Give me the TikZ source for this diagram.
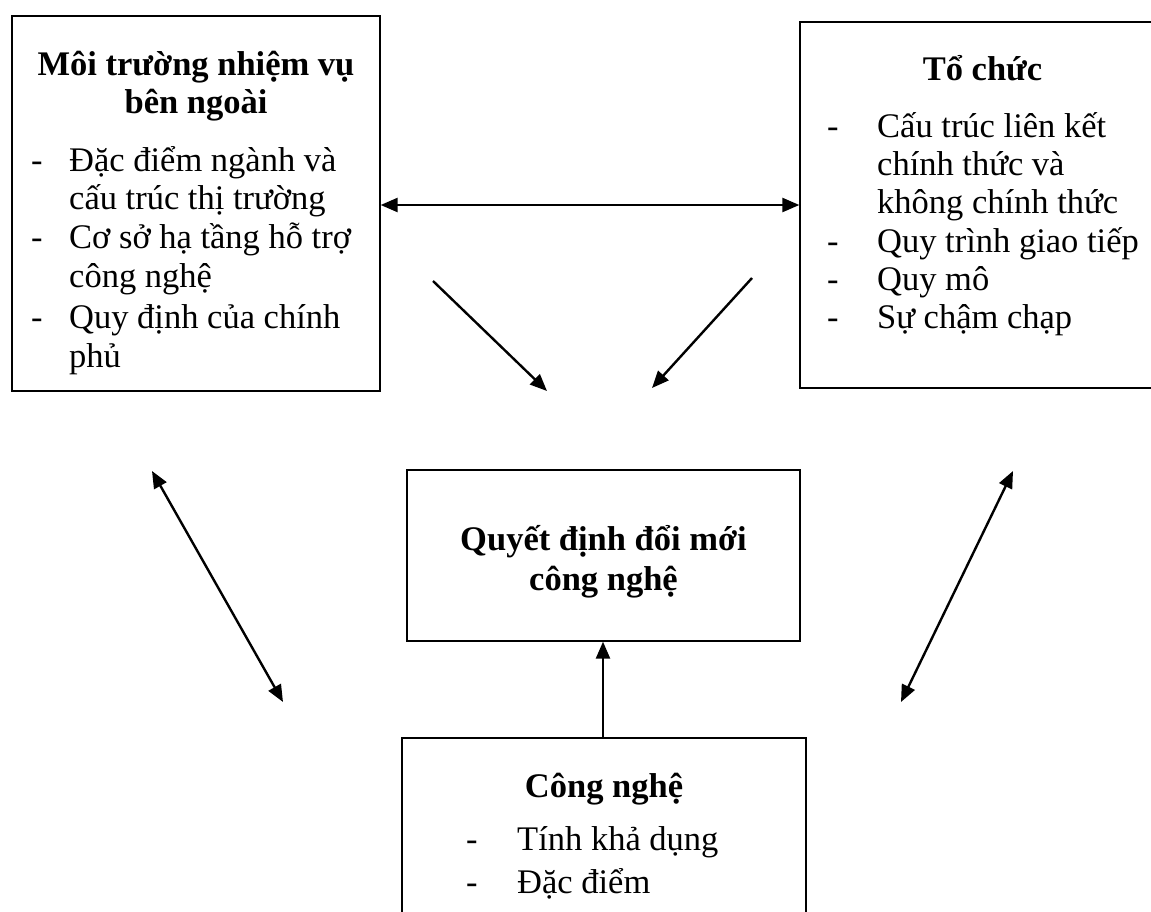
\documentclass[tikz,border=0pt]{standalone}
\usepackage{fontspec}
\setmainfont{Liberation Serif}
\usetikzlibrary{arrows.meta}
\begin{document}
\begin{tikzpicture}[x=1pt,y=-1pt,
  box/.style={draw, line width=1.3pt, inner sep=0pt},
  title/.style={font=\fontsize{34.5}{41}\selectfont\bfseries, anchor=base, inner sep=0pt},
  item/.style={font=\fontsize{34.5}{41}\selectfont, anchor=base west, inner sep=0pt},
  tipa/.tip={Triangle[length=17pt,width=14pt]},
  link/.style={line width=2.4pt, -tipa},
  dlink/.style={line width=2.4pt, tipa-tipa}]
\useasboundingbox (0,0) rectangle (1151,911);

% frames of the four blocks
\node[box, minimum width=368pt, minimum height=375pt] (env)  at (196,203.5) {};
\node[box, minimum width=365pt, minimum height=366pt] (org)  at (982.5,205) {};
\node[box, minimum width=393pt, minimum height=171pt] (dec)  at (603.5,555.5) {};
\node[box, minimum width=404pt, minimum height=222pt] (tech) at (604,849) {};

% external task environment
\node[title] (envt1) at (196,75)  {Môi trường nhiệm vụ};
\node[title] (envt2) at (196,113) {bên ngoài};
\node[item] (envd1) at (31,171) {-};
\node[item] (envi1) at (69,171) {Đặc điểm ngành và};
\node[item] (envi2) at (69,209) {cấu trúc thị trường};
\node[item] (envd2) at (31,248) {-};
\node[item] (envi3) at (69,248) {Cơ sở hạ tầng hỗ trợ};
\node[item] (envi4) at (69,287) {công nghệ};
\node[item] (envd3) at (31,328) {-};
\node[item] (envi5) at (69,328) {Quy định của chính};
\node[item] (envi6) at (69,367) {phủ};

% organization
\node[title] (orgt) at (982.5,80) {Tổ chức};
\node[item] (orgd1) at (827,137) {-};
\node[item] (orgi1) at (877,137) {Cấu trúc liên kết};
\node[item] (orgi2) at (877,175) {chính thức và};
\node[item] (orgi3) at (877,213) {không chính thức};
\node[item] (orgd2) at (827,252) {-};
\node[item] (orgi4) at (877,252) {Quy trình giao tiếp};
\node[item] (orgd3) at (827,290) {-};
\node[item] (orgi5) at (877,290) {Quy mô};
\node[item] (orgd4) at (827,328) {-};
\node[item] (orgi6) at (877,328) {Sự chậm chạp};

% decision
\node[title] (dect1) at (603.5,550) {Quyết định đổi mới};
\node[title] (dect2) at (603.5,590) {công nghệ};

% technology
\node[title] (techt) at (604,797) {Công nghệ};
\node[item] (techd1) at (466,850) {-};
\node[item] (techi1) at (517,850) {Tính khả dụng};
\node[item] (techd2) at (466,893) {-};
\node[item] (techi2) at (517,893) {Đặc điểm};

% free ends of the floating arrows
\coordinate (envout) at (433,281);
\coordinate (envin)  at (547,391);
\coordinate (orgout) at (752,278);
\coordinate (orgin)  at (652,388);
\coordinate (lu) at (152,471);
\coordinate (ld) at (283,702);
\coordinate (ru) at (1013,471);
\coordinate (rd) at (901,702);

% connectors
\draw[dlink] (env.east |- org.west) -- (org.west);
\draw[link] (tech.north -| 603,0) -- (dec.south -| 603,0);
\draw[link] (envout) -- (envin);
\draw[link] (orgout) -- (orgin);
\draw[dlink] (lu) -- (ld);
\draw[dlink] (ru) -- (rd);
\end{tikzpicture}
\end{document}
